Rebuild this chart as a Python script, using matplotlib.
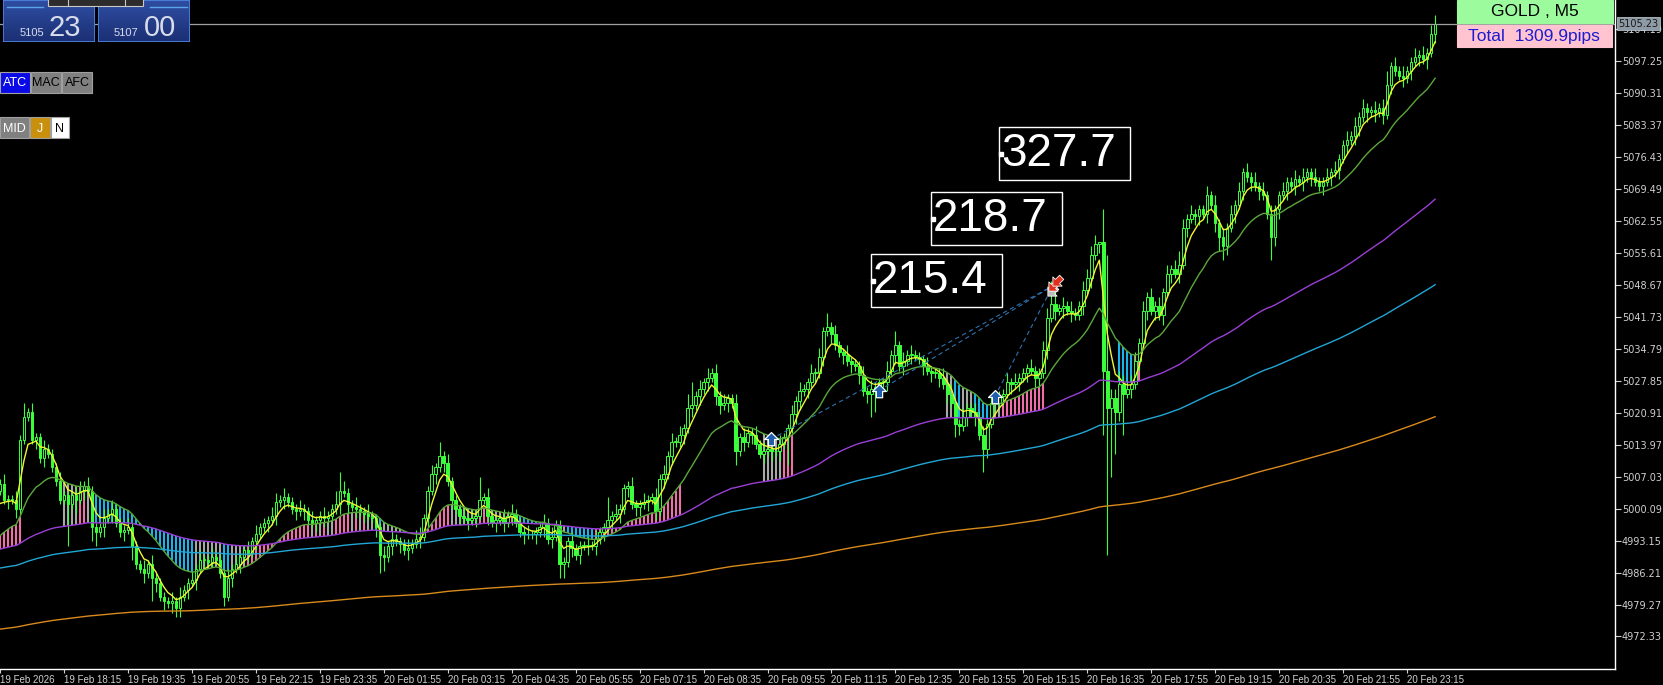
import numpy as np
import matplotlib.pyplot as plt
from matplotlib.patches import Rectangle
from matplotlib.path import Path
from matplotlib.transforms import blended_transform_factory
from matplotlib.colors import LinearSegmentedColormap

W, H = 1663, 685

# ---- data (GOLD M5, 360 bars) ----
FIRST_OPEN = 5004.0
CLOSES = [
    5005.5, 5002, 5002, 5002, 5000, 5015, 5020, 5021, 5015, 5015.5,
    5011, 5013, 5012, 5009, 5006, 5002, 5003, 5001, 5003, 5002,
    5004, 5005, 5004, 4996, 4995, 4996, 4998, 4999, 5000, 4997,
    4995, 4995.5, 4996, 4992, 4988, 4987, 4986, 4988, 4985, 4984,
    4981, 4980, 4979.5, 4980, 4978.5, 4981, 4982.5, 4984, 4984.5, 4987,
    4989, 4989, 4988.5, 4989.5, 4989, 4986, 4981, 4985, 4987, 4988,
    4989.5, 4991, 4990.5, 4993, 4994.5, 4996, 4997, 4997.5, 4998.5, 5001.5,
    5002, 5002.5, 5001.5, 5000, 4999.5, 5000, 4999.5, 4997.5, 4997, 4997.5,
    4998.5, 4998, 4998.5, 5000, 5001, 5004, 5003.5, 5001, 5000.5, 5000,
    4999.5, 4999, 4998.5, 4998, 4996, 4990, 4989.5, 4992, 4993.5, 4993,
    4992.5, 4991, 4991.5, 4992.5, 4993.5, 4994, 4998, 5004, 5007.5, 5009,
    5011.5, 5010, 5006, 5002, 5000, 4998.5, 4998, 4997.5, 4998, 4998.5,
    5002, 5002.5, 4998.5, 4997, 4997.5, 4998, 4997, 4998.5, 4999, 4997,
    4995, 4994.5, 4994.5, 4994.5, 4995, 4996, 4997, 4993.5, 4994, 4996.5,
    4988, 4988.5, 4993, 4991.5, 4990, 4992, 4992, 4992, 4992, 4993.5,
    4995, 4996, 4997.5, 4998.5, 4999, 5000, 5004.5, 5005, 5001, 5000.5,
    5001, 5001.5, 5002, 5002.5, 4999.5, 5006.5, 5007.5, 5011.5, 5014.5, 5014.5,
    5016, 5017.5, 5022, 5022.5, 5024.5, 5026, 5027.5, 5028.5, 5029.5, 5024.5,
    5022.5, 5023, 5024, 5023, 5012.5, 5015.5, 5014.5, 5016.5, 5016, 5014,
    5012, 5012.5, 5013, 5012.5, 5012.5, 5014, 5015.5, 5017.5, 5020.5, 5023.5,
    5025.5, 5026, 5027.5, 5029.5, 5029.5, 5033, 5038.5, 5039.5, 5038, 5035.5,
    5034, 5033.5, 5032, 5031.5, 5031, 5029, 5025.5, 5025, 5026, 5026.5,
    5027.5, 5027.5, 5030, 5033.5, 5035.5, 5031, 5032, 5033.5, 5033.5, 5033,
    5032.5, 5031, 5030, 5029.5, 5029.5, 5028.5, 5027, 5025, 5023, 5018.5,
    5018, 5020, 5022, 5021, 5020, 5016, 5013, 5018.5, 5023, 5023,
    5024.5, 5025, 5027.5, 5027, 5027.5, 5028.5, 5029.5, 5030.5, 5030, 5028.5,
    5029.5, 5034.5, 5041.5, 5044.5, 5043, 5043.5, 5044, 5043, 5042.5, 5042,
    5044, 5047.5, 5050, 5055, 5057.5, 5058, 5030, 5022, 5024, 5021,
    5027, 5025, 5026, 5027, 5032, 5036, 5043, 5046, 5043, 5044,
    5042, 5047, 5051, 5052, 5051, 5053, 5061, 5063, 5064, 5063.5,
    5065, 5064, 5068, 5066, 5062, 5059, 5057, 5061, 5064, 5066,
    5069, 5073, 5072, 5071, 5070, 5069, 5068, 5064, 5059, 5065,
    5068, 5069, 5071, 5070, 5071.5, 5071, 5072, 5073, 5072, 5071,
    5070, 5071, 5072, 5073, 5073.5, 5076, 5079, 5080, 5081, 5083,
    5085, 5087, 5086, 5086.5, 5086, 5087, 5085.5, 5092, 5096, 5095,
    5094, 5093.5, 5095, 5097, 5098, 5098.5, 5097.5, 5099, 5103, 5105.2,
]
# wick lengths (price units) above / below the body, one digit per bar
UP_WICK = "".join([
    "1211213121", "1211121112", "2121112121", "1121112121", "1112121121",
    "2112111212", "1121211122", "1211121121", "1211342112", "1121112121",
    "1121221121", "3121112121", "5121112121", "1121112121", "1112111212",
    "1151211121", "1211212121", "2135121212", "1211212112", "1211121121",
    "2112121312", "1121112121", "1121312121", "1121112121", "1211212121",
    "1121211121", "1225312121", "1222201242", "3222212121", "2121232121",
    "1121212121", "2121212121", "1211212112", "1121211212", "1211212312",
    "1211212122",
])
DN_WICK = "".join([
    "1121211112", "1211111913", "1213312121", "1213112152", "1212221212",
    "1211112121", "2121211212", "1211212112", "1211121212", "1211243121",
    "2121121212", "1212121212", "1121212121", "1211212121", "3312121212",
    "1212121212", "2121212121", "1212121212", "2121312121", "1212121612",
    "2121212121", "1212121255", "2121212121", "1212121213", "2121215212",
    "1212121212", "2121212121", "1212120099", "2912121212", "1212121212",
    "2121233212", "1212121152", "2121212121", "1212121212", "2121212121",
    "1212121212",
])
BIG_WICKS = {276: (7, 14), 277: (25, 32), 278: (2, 15)}

# moving averages: period and starting value at the left edge
MA_PERIODS = {"fast": 5, "mid": 20, "slow": 100, "slower": 200, "slowest": 500}
MA_START = {"fast": 4999, "mid": 4993, "slow": 4991, "slower": 4987, "slowest": 4973.8}

# coloured band between the mid MA and the slow MA: (state, number of bars)
BAND_RUNS = [
    ("p", 6), (".", 10), ("g", 4), ("p", 2), ("g", 1), ("b", 26), ("g", 7),
    ("b", 2), ("g", 4), ("p", 16), ("g", 1), ("p", 1), ("g", 1), ("p", 1),
    ("g", 2), ("p", 4), ("g", 1), ("p", 1), ("g", 1), ("p", 1), ("g", 2),
    ("b", 2), ("g", 5), ("b", 4), ("p", 8), ("g", 7), ("p", 3), ("g", 4),
    ("p", 2), ("b", 10), ("g", 3), ("b", 7), ("p", 22), (".", 20), ("g", 5),
    ("p", 3), (".", 38), ("g", 2), ("b", 2), ("g", 3), ("b", 4), ("g", 3),
    ("p", 11), (".", 18), ("b", 4), ("p", 2), (".", 74),
]

BUY_POINTS = [(192.8, 5015.1), (219.8, 5025.6), (248.8, 5024.3)]
CLOSE_POINT = (263.4, 5048.4)
PROFIT_LABELS = ["215.4", "218.7", "327.7"]
PROFIT_ANCHORS = [(218.0, 5049.5), (233.0, 5062.9), (250.0, 5077.0)]

CURRENT_PRICE = 5105.23
Y_TICKS = [5104.19, 5097.25, 5090.31, 5083.37, 5076.43, 5069.49, 5062.55,
           5055.61, 5048.67, 5041.73, 5034.79, 5027.85, 5020.91, 5013.97,
           5007.03, 5000.09, 4993.15, 4986.21, 4979.27, 4972.33]
TIME_LABELS = ["19 Feb 2026", "19 Feb 18:15", "19 Feb 19:35", "19 Feb 20:55",
               "19 Feb 22:15", "19 Feb 23:35", "20 Feb 01:55", "20 Feb 03:15",
               "20 Feb 04:35", "20 Feb 05:55", "20 Feb 07:15", "20 Feb 08:35",
               "20 Feb 09:55", "20 Feb 11:15", "20 Feb 12:35", "20 Feb 13:55",
               "20 Feb 15:15", "20 Feb 16:35", "20 Feb 17:55", "20 Feb 19:15",
               "20 Feb 20:35", "20 Feb 21:55", "20 Feb 23:15"]
LABEL_EVERY = 16

SYMBOL = "GOLD , M5"
TOTAL = "Total  1309.9pips"
BID = ("5105", "23")
ASK = ("5107", "00")


def ema(values, n, start):
    out, e, k = [], start, 2.0 / (n + 1)
    for v in values:
        e = e + (v - e) * k
        out.append(e)
    return np.array(out)


closes = np.array(CLOSES, dtype=float)
n = len(closes)
x = np.arange(n)
opens = np.concatenate([[FIRST_OPEN], closes[:-1]])
up = np.array([float(d) for d in UP_WICK[:n]])
dn = np.array([float(d) for d in DN_WICK[:n]])
for i, (u, d) in BIG_WICKS.items():
    up[i], dn[i] = u, d
highs = np.maximum(opens, closes) + up
lows = np.minimum(opens, closes) - dn

ma = {k: ema(closes, MA_PERIODS[k], MA_START[k]) for k in MA_PERIODS}
band = "".join(s * c for s, c in BAND_RUNS)

LIME = "#3cff3c"
plt.rcParams["font.family"] = "DejaVu Sans"
fig = plt.figure(figsize=(W / 100, H / 100), dpi=100, facecolor="black")
ax = fig.add_axes([0, 16 / H, 1615 / W, 669 / H], facecolor="black")

# band bars
band_cols = {"p": "#f06eaa", "g": "#a8a8a8", "b": "#1ab4e8"}
for key, col in band_cols.items():
    sel = np.array([band[i] == key for i in range(n)])
    ax.vlines(x[sel], ma["mid"][sel], ma["slow"][sel], colors=col, lw=1.5, zorder=1)

# candles
ax.vlines(x, lows, highs, colors=LIME, lw=0.8, zorder=2)
bull = closes >= opens
body_lo = np.minimum(opens, closes)
body_h = np.maximum(np.abs(closes - opens), 0.15)
ax.bar(x[bull], body_h[bull], bottom=body_lo[bull], width=0.62,
       facecolor="black", edgecolor=LIME, linewidth=0.7, zorder=3)
ax.bar(x[~bull], body_h[~bull], bottom=body_lo[~bull], width=0.62,
       facecolor=LIME, edgecolor=LIME, linewidth=0.7, zorder=3)

# moving averages
ma_cols = {"fast": "#f2f535", "mid": "#5aa83a", "slow": "#9a3fd6",
           "slower": "#22a6d6", "slowest": "#d98a1c"}
for k, col in ma_cols.items():
    ax.plot(x, ma[k], color=col, lw=1.0, zorder=4)

# trade lines and arrows
for bx, bp in BUY_POINTS:
    ax.plot([bx, CLOSE_POINT[0]], [bp, CLOSE_POINT[1]], color="#2f72b0",
            lw=0.8, ls=(0, (4, 3)), zorder=5)
arrow = Path([(0, 1), (-1, 0), (-0.45, 0), (-0.45, -0.9), (0.45, -0.9),
              (0.45, 0), (1, 0), (0, 1)], closed=True)
for bx, bp in BUY_POINTS:
    ax.plot(bx, bp, marker=arrow, ms=10, mfc="#1f5fae", mec="white", mew=0.9, zorder=6)
ang = np.deg2rad(135)
rot = np.array([[np.cos(ang), -np.sin(ang)], [np.sin(ang), np.cos(ang)]])
red_arrow = Path(arrow.vertices @ rot.T, closed=True)
for dx, dp, col in [(-0.3, -1.2, "#bbbbbb"), (0, 0, "#e0301e"), (0.9, 1.1, "#e0301e")]:
    ax.plot(CLOSE_POINT[0] + dx, CLOSE_POINT[1] + dp, marker=red_arrow, ms=9,
            mfc=col, mec="white", mew=0.6, zorder=6)

# profit boxes
for lab, (bx, bp) in zip(PROFIT_LABELS, PROFIT_ANCHORS):
    ax.add_patch(Rectangle((bx, bp - 5.75), 32.75, 11.5, facecolor="black",
                           edgecolor="white", lw=1.0, zorder=7))
    ax.text(bx + 0.4, bp, lab, color="white", fontsize=33, family="Liberation Sans",
            ha="left", va="center", zorder=8)
    ax.plot(bx + 0.3, bp, marker="s", ms=3, color="white", zorder=9)

# current price line
ax.axhline(CURRENT_PRICE, color="#a0a0a0", lw=0.9, zorder=4)

ax.set_xlim(0.25, 404)
ax.set_ylim(4965.28, 5110.4)
for s in ("top", "left"):
    ax.spines[s].set_visible(False)
for s in ("right", "bottom"):
    ax.spines[s].set_color("white")
    ax.spines[s].set_linewidth(1.0)
ax.yaxis.tick_right()
ax.set_yticks(Y_TICKS)
ax.set_yticklabels([f"{v:.2f}" for v in Y_TICKS])
ax.tick_params(axis="y", colors="#d0d0d0", labelsize=7, length=4, width=0.8, pad=1)
ax.set_xticks(np.arange(len(TIME_LABELS)) * LABEL_EVERY)
ax.set_xticklabels(TIME_LABELS)
ax.tick_params(axis="x", colors="#d0d0d0", labelsize=7, length=3, width=0.8, pad=1)
for t in ax.get_xticklabels():
    t.set_horizontalalignment("left")
    t.set_family("Liberation Sans")

tr = blended_transform_factory(ax.transAxes, ax.transData)
ax.text(1.002, CURRENT_PRICE, f"{CURRENT_PRICE:.2f}", transform=tr, fontsize=7,
        color="#1a1a1a", ha="left", va="center", zorder=10, clip_on=False,
        bbox=dict(boxstyle="square,pad=0.15", fc="#8e9aa6", ec="#c8d0d8", lw=0.5))


def frect(x0, y0, x1, y1):
    return [x0 / W, 1 - y1 / H, (x1 - x0) / W, (y1 - y0) / H]


def box(x0, y0, x1, y1, fc, ec, lw=0.8):
    fig.add_artist(Rectangle((x0 / W, 1 - y1 / H), (x1 - x0) / W, (y1 - y0) / H,
                             transform=fig.transFigure, fc=fc, ec=ec, lw=lw, zorder=20))


def ftext(px, py, s, **kw):
    fig.text(px / W, 1 - py / H, s, zorder=21, **kw)


# bid / ask panels
grad = LinearSegmentedColormap.from_list("p", ["#1b2f74", "#2f4ea2"])
for (x0, x1), (small, big), (sx, bx) in zip([(3, 95), (98, 190)], [BID, ASK],
                                             [(20, 49), (114, 144)]):
    pax = fig.add_axes(frect(x0, 0, x1, 42))
    pax.imshow(np.linspace(0, 1, 50)[:, None], cmap=grad, aspect="auto",
               origin="lower", extent=[0, 1, 0, 1])
    pax.set_axis_off()
    pax.add_patch(Rectangle((0, 0), 1, 1, transform=pax.transAxes, fill=False,
                            ec="#4f86e0", lw=1.2))
    ftext(sx, 36, small, fontsize=8, color="#d8dcea", family="Liberation Sans",
          va="baseline")
    ftext(bx, 36, big, fontsize=21, color="#d8dcea", family="Liberation Sans",
          va="baseline")
box(48, -8, 143, 6, "#2c2c2c", "#c8c8c8")
for dxp in (68, 125):
    fig.add_artist(plt.Line2D([dxp / W] * 2, [1, 1 - 6 / H], color="#c8c8c8",
                              lw=0.8, zorder=22))
for a, b in [(7, 43), (150, 187)]:
    fig.add_artist(plt.Line2D([a / W, b / W], [1 - 7 / H] * 2, color="#5aa4e8",
                              lw=1.0, zorder=22))

# buttons
for x0, x1, y0, y1, lab, fc, fg in [
        (0, 30, 72, 93, "ATC", "#0a0ae6", "white"),
        (31, 61, 72, 93, "MAC", "#808080", "black"),
        (62, 92, 72, 93, "AFC", "#808080", "black"),
        (0, 29, 117, 138, "MID", "#808080", "white"),
        (30, 50, 117, 138, "J", "#c8900c", "white"),
        (51, 69, 117, 138, "N", "white", "black")]:
    box(x0, y0, x1, y1, fc, "#a0a0a0")
    ftext((x0 + x1) / 2, (y0 + y1) / 2 + 1, lab, fontsize=9, color=fg,
          family="Liberation Sans", ha="center", va="center")

# symbol / total boxes
box(1457, 0, 1613, 23, "#9cfb9c", "#9cfb9c")
ftext(1535, 12, SYMBOL, fontsize=12.5, color="black", family="Liberation Sans",
      ha="center", va="center")
box(1457, 25, 1612, 47, "#ffc4d0", "#ffc4d0")
ftext(1534, 36.5, TOTAL, fontsize=12.5, color="#1c1cd0", family="Liberation Sans",
      ha="center", va="center")

fig.savefig("out.png", dpi=100, facecolor="black")
